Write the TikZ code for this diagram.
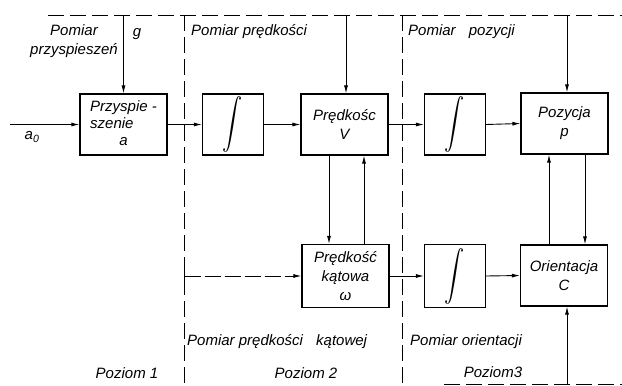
\documentclass[tikz,border=0pt]{standalone}
\usepackage{fontspec}
\setmainfont{Liberation Sans}
\usetikzlibrary{arrows.meta}
\newcommand\lbl{\fontsize{15}{19}\selectfont\itshape}
\newcommand\intsign{\scalebox{0.8}[1]{\resizebox{!}{37pt}{$\displaystyle\int$}}}
\begin{document}
\begin{tikzpicture}[x=1pt,y=-1pt,
  line cap=butt,
  blk/.style={draw, line width=1.1pt, inner sep=0pt, align=center, font=\lbl,
              minimum width=87pt, minimum height=61pt},
  integ/.style={blk, minimum width=61pt},
  arr/.style={line width=0.9pt, -{Latex[length=8pt,width=4pt]}},
  border/.style={line width=1pt, dash pattern=on 16pt off 6pt},
  txt/.style={font=\lbl, inner sep=0pt, align=center}]
\useasboundingbox (0,0) rectangle (622,386);

% level boundaries
\coordinate (tl) at (48,15);
\coordinate (tr) at (622,15);
\coordinate (d1t) at (184,15);
\coordinate (d1b) at (184,386);
\coordinate (d2t) at (402,15);
\coordinate (d2b) at (402,386);
\coordinate (bl) at (444,384);
\coordinate (br) at (622,384);
\draw[border] (tl) -- (tr);
\draw[border] (d1t) -- (d1b);
\draw[border] (d2t) -- (d2b);
\draw[border] (bl) -- (br);

% blocks, top row
\node[blk]   (acc) at (123.5,124.5) {\begin{tabular}{@{}l@{}}Przyspie -\\[-2pt]szenie\\[-2pt]\multicolumn{1}{@{}c@{}}{a}\end{tabular}};
\node[integ] (i1)  at (233,124.5) {\intsign};
\node[blk]   (vel) at (344.5,124.5) {Prędkośc\\V};
\node[integ] (i2)  at (455,124.5) {\intsign};
\node[blk]   (pos) at (564.5,123.5) {Pozycja\\p};

% blocks, bottom row
\node[blk, minimum height=63pt] (ang) at (345.5,276) {Prędkość\\kątowa\\ω};
\node[integ, minimum height=63pt] (i3) at (455,276) {\intsign};
\node[blk] (ori) at (564,275.5) {Orientacja\\C};

% signal flow
\coordinate (in) at (10,124.5);
\draw[arr] (in) -- (acc.west);
\draw[arr] (acc.east) -- (i1.west);
\draw[arr] (i1.east) -- (vel.west);
\draw[arr] (vel.east) -- (i2.west);
\draw[arr] (i2.east) -- (pos.west);
\draw[arr] (ang.east) -- (i3.west);
\draw[arr] (i3.east) -- (ori.west);

% measurements entering from the top and bottom
\draw[arr] (acc.north |- tl) -- (acc.north);
\draw[arr] ([xshift=1.5pt]vel.north |- tl) -- ([xshift=1.5pt]vel.north);
\draw[arr] ([xshift=2.5pt]pos.north |- tl) -- ([xshift=2.5pt]pos.north);
\draw[arr] ([xshift=3pt]ori.south |- bl) -- ([xshift=3pt]ori.south);

% couplings between rows
\coordinate (c1) at (329,0);
\coordinate (c2) at (364,0);
\coordinate (c3) at (549,0);
\coordinate (c4) at (585,0);
\draw[arr] (vel.south -| c1) -- (ang.north -| c1);
\draw[arr] (ang.north -| c2) -- (vel.south -| c2);
\draw[arr] (ori.north -| c3) -- (pos.south -| c3);
\draw[arr] (pos.south -| c4) -- (ori.north -| c4);

% angular rate input from level 1
\coordinate (win) at (184,276);
\draw[line width=0.9pt, dash pattern=on 16pt off 4pt,
      {Bar[width=7pt]}-{Latex[length=8pt,width=4pt]}] (win) -- (ang.west);

% labels
\node[txt] (la0)  at (32,137) {a\textsubscript{0}};
\node[txt] (lacc) at (74,41) {Pomiar\\przyspieszeń};
\node[txt] (lg)   at (137,34) {g};
\node[txt, anchor=west] (lvel) at (191,32) {Pomiar prędkości};
\node[txt, anchor=west] (lpos) at (408,32) {Pomiar\hspace{0.6em} pozycji};
\node[txt, anchor=west] (lang) at (187,342) {Pomiar prędkości\hspace{0.6em} kątowej};
\node[txt, anchor=west] (lori) at (410,342) {Pomiar orientacji};
\node[txt] (p1) at (127,373) {Poziom 1};
\node[txt] (p2) at (306,373) {Poziom 2};
\node[txt] (p3) at (493,372) {Poziom3};
\end{tikzpicture}
\end{document}
